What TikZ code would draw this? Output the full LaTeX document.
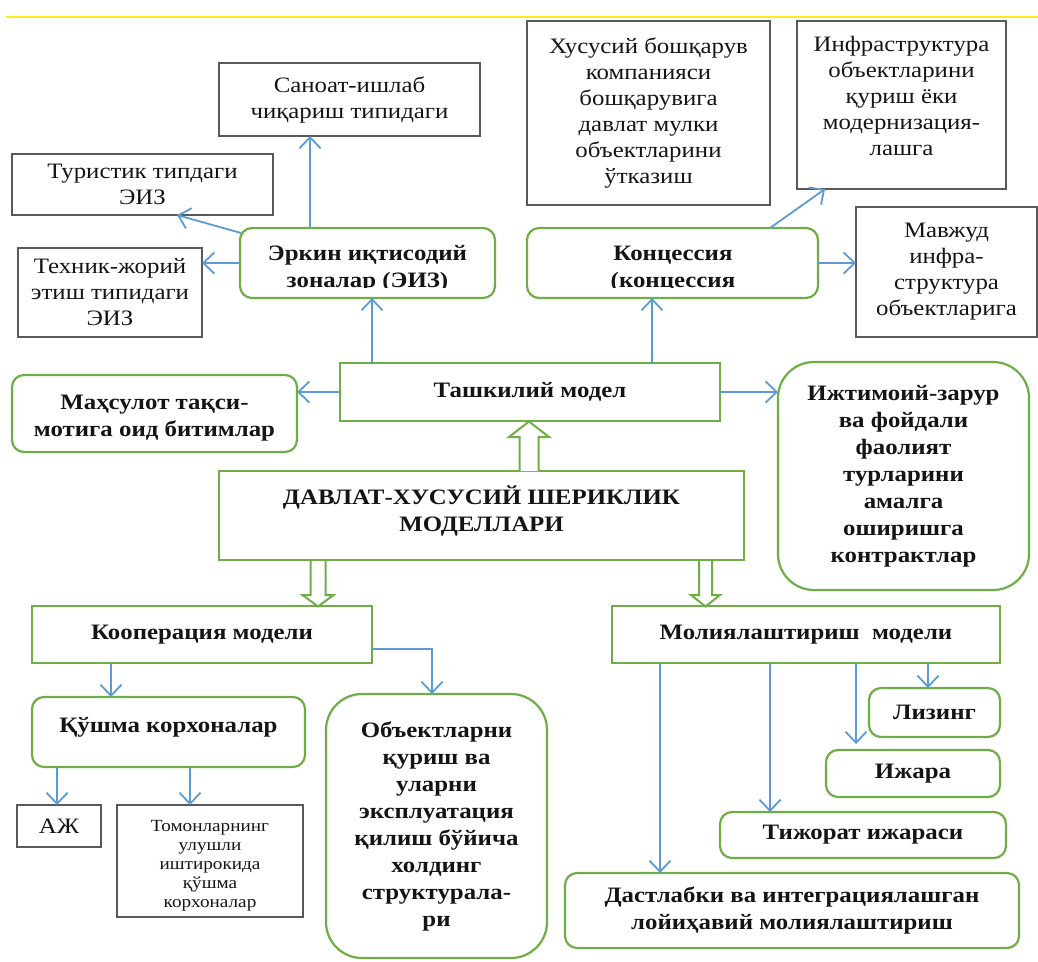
\documentclass[tikz,border=0pt]{standalone}
\usepackage{fontspec}
\setmainfont{Liberation Serif}[FakeStretch=1.13]
\usetikzlibrary{arrows.meta,calc}
\definecolor{grn}{HTML}{70AD47}
\definecolor{blu}{HTML}{5B9BD5}
\definecolor{gry}{HTML}{595959}
\definecolor{ylw}{HTML}{FFE91F}
\definecolor{ink}{HTML}{141414}
\begin{document}
\begin{tikzpicture}[x=1pt,y=-1pt,
  every node/.style={inner sep=0pt, outer sep=0pt, text=ink},
  graybox/.style={draw=gry, line width=1.8pt, rectangle},
  gbox/.style={draw=grn, line width=2.2pt, rectangle},
  gboxr/.style={gbox, rounded corners=12pt},
  gboxrr/.style={gbox, rounded corners=36pt},
  rtxt/.style={align=center, font=\fontsize{22}{26}\selectfont},
  stxt/.style={align=center, font=\fontsize{17}{19}\selectfont},
  btxt/.style={align=center, font=\fontsize{22}{27}\selectfont\bfseries},
  arr/.style={draw=blu, line width=1.8pt, -{Straight Barb[length=11pt,width=21pt,line width=1.8pt]}},
  blk/.style={draw=grn, line width=2pt, fill=white, line join=miter},
]
\useasboundingbox (0,0) rectangle (1038,961);
\draw[ylw, line width=1.5pt] (6,17) -- (1038,17);

% gray boxes
\node[graybox, rtxt, minimum width=261pt, minimum height=73pt] (san) at (349.5,99.5) {Саноат-ишлаб\\чиқариш типидаги};
\node[graybox, rtxt, minimum width=261pt, minimum height=61pt] (tur) at (142.5,184.5) {Туристик типдаги\\ЭИЗ};
\node[graybox, rtxt, minimum width=184pt, minimum height=89pt] (tex) at (110,292.5) {Техник-жорий\\этиш типидаги\\ЭИЗ};
\node[graybox, rtxt, minimum width=243pt, minimum height=184pt] (hus) at (648.5,113) {Хусусий бошқарув\\компанияси\\бошқарувига\\давлат мулки\\объектларини\\ўтказиш};
\node[graybox, minimum width=209pt, minimum height=168pt] (inf) at (901.5,105) {};
\node[rtxt] (inftxt) at (901.5,96) {Инфраструктура\\объектларини\\қуриш ёки\\модернизация-\\лашга};
\node[graybox, rtxt, minimum width=181pt, minimum height=130pt] (mav) at (946.5,272) {Мавжуд\\инфра-\\структура\\объектларига};
\node[graybox, rtxt, minimum width=84pt, minimum height=42pt] (aj) at (59,826) {АЖ};
\node[graybox, minimum width=186pt, minimum height=112pt] (tom) at (210,861) {};
\node[stxt] (tomtxt) at (210,866) {Томонларнинг\\улушли\\иштирокида\\қўшма\\корхоналар};

% green boxes
\node[gboxr, minimum width=255pt, minimum height=70pt] (ez) at (367.5,263) {};
\begin{scope}
\clip (240,228) rectangle (495,287);
\node[btxt] (eztxt) at (367.5,269) {Эркин иқтисодий\\зоналар (ЭИЗ)};
\end{scope}
\node[gboxr, minimum width=291pt, minimum height=70pt] (kon) at (672.5,263) {};
\begin{scope}
\clip (527,228) rectangle (818,287);
\node[btxt] (kontxt) at (673,269) {Концессия\\(концессия};
\end{scope}
\node[gbox, btxt, minimum width=380pt, minimum height=58pt] (tash) at (530,392) {Ташкилий модел};
\node[gboxr, minimum width=285pt, minimum height=77pt] (mah) at (154.5,413.5) {};
\node[btxt] (mahtxt) at (154.5,418) {Маҳсулот тақси-\\мотига оид битимлар};
\node[gboxrr, btxt, minimum width=251pt, minimum height=228pt] (ijt) at (903.5,476) {Ижтимоий-зарур\\ва фойдали\\фаолият\\турларини\\амалга\\оширишга\\контрактлар};
\node[gbox, minimum width=525pt, minimum height=89pt] (main) at (481.5,515.5) {};
\node[btxt] (maintxt) at (481.5,511) {ДАВЛАТ-ХУСУСИЙ ШЕРИКЛИК\\МОДЕЛЛАРИ};
\node[gbox, btxt, minimum width=340pt, minimum height=57pt] (koop) at (202,634.5) {Кооперация модели};
\node[gbox, btxt, minimum width=388pt, minimum height=57pt] (mol) at (806,634.5) {Молиялаштириш\ \ модели};
\node[gboxr, minimum width=273pt, minimum height=70pt] (kush) at (168.5,732) {};
\node[btxt] (kushtxt) at (168.5,727) {Қўшма корхоналар};
\node[gboxrr, btxt, minimum width=221pt, minimum height=264pt] (obj) at (436.5,826) {Объектларни\\қуриш ва\\уларни\\эксплуатация\\қилиш бўйича\\холдинг\\структурала-\\ри};
\node[gboxr, btxt, minimum width=131pt, minimum height=49pt] (liz) at (934.5,712.5) {Лизинг};
\node[gboxr, btxt, minimum width=174pt, minimum height=47pt] (ijara) at (913,773.5) {Ижара};
\node[gboxr, btxt, minimum width=286pt, minimum height=46pt] (tij) at (863,835) {Тижорат ижараси};
\node[gboxr, btxt, minimum width=454pt, minimum height=75pt] (dast) at (792,910.5) {Дастлабки ва интеграциялашган\\лойиҳавий молиялаштириш};

% block arrows
\draw[blk] (519.5,471) -- (519.5,437) -- (509,437) -- (529,421.5) -- (549,437) -- (538.5,437) -- (538.5,471);
\draw[blk] (310.5,561) -- (310.5,595) -- (302.5,595) -- (318,606.5) -- (333.5,595) -- (325.5,595) -- (325.5,561);
\draw[blk] (699,561) -- (699,595) -- (691,595) -- (705.5,606.5) -- (720,595) -- (712,595) -- (712,561);

% blue connectors
\coordinate (a1) at ([xshift=4.5]ez.south);
\draw[arr] (a1 |- tash.north) -- (a1);
\coordinate (a2) at ([xshift=-20.5]kon.south);
\draw[arr] (a2 |- tash.north) -- (a2);
\coordinate (a3) at ([xshift=-57.5]ez.north);
\draw[arr] (a3) -- (a3 |- san.south);
\draw[arr] ([xshift=1pt,yshift=-5pt]ez.north west) -- ([xshift=34.5pt]tur.south);
\draw[arr] (ez.west) -- (ez.west -| tex.east);
\draw[arr] ([xshift=97.5pt]kon.north) -- ([xshift=-76.5pt]inf.south);
\draw[arr] (kon.east) -- (kon.east -| mav.west);
\draw[arr] (tash.west) -- (tash.west -| mah.east);
\draw[arr] (tash.east) -- (tash.east -| ijt.west);
\coordinate (a10) at ([xshift=-91pt]koop.south);
\draw[arr] (a10) -- (a10 |- kush.north);
\draw[arr] ([yshift=-14.5pt]koop.east) -| ([xshift=-4.5pt]obj.north);
\coordinate (a12) at ([xshift=-111.5pt]kush.south);
\draw[arr] (a12) -- (a12 |- aj.north);
\coordinate (a13) at ([xshift=21.5pt]kush.south);
\draw[arr] (a13) -- (a13 |- tom.north);
\coordinate (a14) at ([xshift=-146pt]mol.south);
\draw[arr] (a14) -- (a14 |- dast.north);
\coordinate (a15) at ([xshift=-36pt]mol.south);
\draw[arr] (a15) -- (a15 |- tij.north);
\coordinate (a16) at ([xshift=50pt]mol.south);
\draw[arr, shorten >=6pt] (a16) -- (a16 |- ijara.north);
\coordinate (a17) at ([xshift=122pt]mol.south);
\draw[arr] (a17) -- (a17 |- liz.north);
\end{tikzpicture}
\end{document}
